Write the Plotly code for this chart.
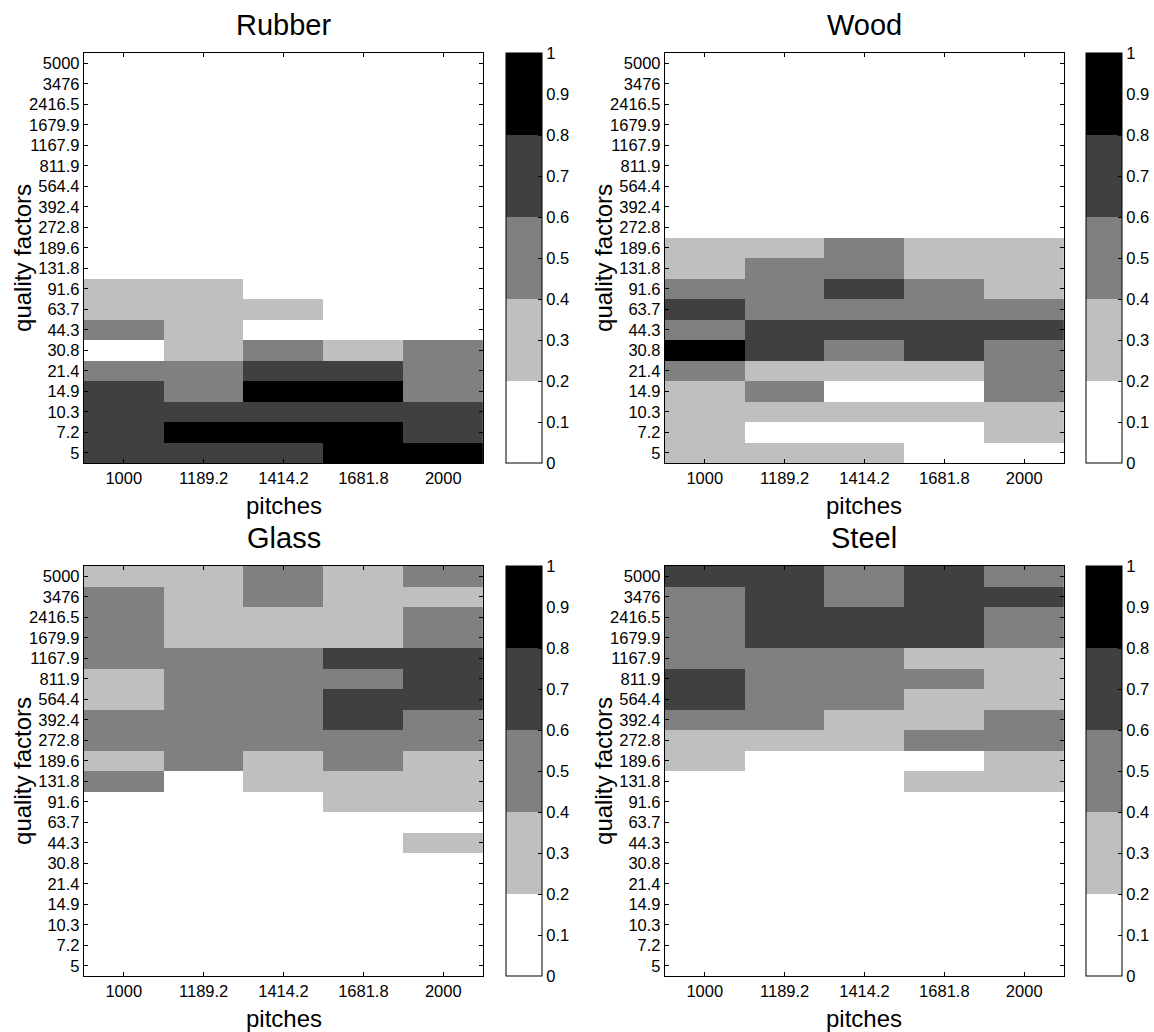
import plotly.graph_objects as go

W, H = 1154, 1032

pitches = ["1000", "1189.2", "1414.2", "1681.8", "2000"]
# quality factors, listed top to bottom as in the picture
quality_factors = ["5000", "3476", "2416.5", "1679.9", "1167.9", "811.9", "564.4",
                   "392.4", "272.8", "189.6", "131.8", "91.6", "63.7", "44.3",
                   "30.8", "21.4", "14.9", "10.3", "7.2", "5"]

# values per row (top to bottom), columns = pitches
rubber = [
    [0.1, 0.1, 0.1, 0.1, 0.1],
    [0.1, 0.1, 0.1, 0.1, 0.1],
    [0.1, 0.1, 0.1, 0.1, 0.1],
    [0.1, 0.1, 0.1, 0.1, 0.1],
    [0.1, 0.1, 0.1, 0.1, 0.1],
    [0.1, 0.1, 0.1, 0.1, 0.1],
    [0.1, 0.1, 0.1, 0.1, 0.1],
    [0.1, 0.1, 0.1, 0.1, 0.1],
    [0.1, 0.1, 0.1, 0.1, 0.1],
    [0.1, 0.1, 0.1, 0.1, 0.1],
    [0.1, 0.1, 0.1, 0.1, 0.1],
    [0.3, 0.3, 0.1, 0.1, 0.1],
    [0.3, 0.3, 0.3, 0.1, 0.1],
    [0.5, 0.3, 0.1, 0.1, 0.1],
    [0.1, 0.3, 0.5, 0.3, 0.5],
    [0.5, 0.5, 0.7, 0.7, 0.5],
    [0.7, 0.5, 0.9, 0.9, 0.5],
    [0.7, 0.7, 0.7, 0.7, 0.7],
    [0.7, 0.9, 0.9, 0.9, 0.7],
    [0.7, 0.7, 0.7, 0.9, 0.9],
]

wood = [
    [0.1, 0.1, 0.1, 0.1, 0.1],
    [0.1, 0.1, 0.1, 0.1, 0.1],
    [0.1, 0.1, 0.1, 0.1, 0.1],
    [0.1, 0.1, 0.1, 0.1, 0.1],
    [0.1, 0.1, 0.1, 0.1, 0.1],
    [0.1, 0.1, 0.1, 0.1, 0.1],
    [0.1, 0.1, 0.1, 0.1, 0.1],
    [0.1, 0.1, 0.1, 0.1, 0.1],
    [0.1, 0.1, 0.1, 0.1, 0.1],
    [0.3, 0.3, 0.5, 0.3, 0.3],
    [0.3, 0.5, 0.5, 0.3, 0.3],
    [0.5, 0.5, 0.7, 0.5, 0.3],
    [0.7, 0.5, 0.5, 0.5, 0.5],
    [0.5, 0.7, 0.7, 0.7, 0.7],
    [0.9, 0.7, 0.5, 0.7, 0.5],
    [0.5, 0.3, 0.3, 0.3, 0.5],
    [0.3, 0.5, 0.1, 0.1, 0.5],
    [0.3, 0.3, 0.3, 0.3, 0.3],
    [0.3, 0.1, 0.1, 0.1, 0.3],
    [0.3, 0.3, 0.3, 0.1, 0.1],
]

glass = [
    [0.3, 0.3, 0.5, 0.3, 0.5],
    [0.5, 0.3, 0.5, 0.3, 0.3],
    [0.5, 0.3, 0.3, 0.3, 0.5],
    [0.5, 0.3, 0.3, 0.3, 0.5],
    [0.5, 0.5, 0.5, 0.7, 0.7],
    [0.3, 0.5, 0.5, 0.5, 0.7],
    [0.3, 0.5, 0.5, 0.7, 0.7],
    [0.5, 0.5, 0.5, 0.7, 0.5],
    [0.5, 0.5, 0.5, 0.5, 0.5],
    [0.3, 0.5, 0.3, 0.5, 0.3],
    [0.5, 0.1, 0.3, 0.3, 0.3],
    [0.1, 0.1, 0.1, 0.3, 0.3],
    [0.1, 0.1, 0.1, 0.1, 0.1],
    [0.1, 0.1, 0.1, 0.1, 0.3],
    [0.1, 0.1, 0.1, 0.1, 0.1],
    [0.1, 0.1, 0.1, 0.1, 0.1],
    [0.1, 0.1, 0.1, 0.1, 0.1],
    [0.1, 0.1, 0.1, 0.1, 0.1],
    [0.1, 0.1, 0.1, 0.1, 0.1],
    [0.1, 0.1, 0.1, 0.1, 0.1],
]

steel = [
    [0.7, 0.7, 0.5, 0.7, 0.5],
    [0.5, 0.7, 0.5, 0.7, 0.7],
    [0.5, 0.7, 0.7, 0.7, 0.5],
    [0.5, 0.7, 0.7, 0.7, 0.5],
    [0.5, 0.5, 0.5, 0.3, 0.3],
    [0.7, 0.5, 0.5, 0.5, 0.3],
    [0.7, 0.5, 0.5, 0.3, 0.3],
    [0.5, 0.5, 0.3, 0.3, 0.5],
    [0.3, 0.3, 0.3, 0.5, 0.5],
    [0.3, 0.1, 0.1, 0.1, 0.3],
    [0.1, 0.1, 0.1, 0.3, 0.3],
    [0.1, 0.1, 0.1, 0.1, 0.1],
    [0.1, 0.1, 0.1, 0.1, 0.1],
    [0.1, 0.1, 0.1, 0.1, 0.1],
    [0.1, 0.1, 0.1, 0.1, 0.1],
    [0.1, 0.1, 0.1, 0.1, 0.1],
    [0.1, 0.1, 0.1, 0.1, 0.1],
    [0.1, 0.1, 0.1, 0.1, 0.1],
    [0.1, 0.1, 0.1, 0.1, 0.1],
    [0.1, 0.1, 0.1, 0.1, 0.1],
]

titles = ["Rubber", "Wood", "Glass", "Steel"]
datasets = [rubber, wood, glass, steel]
cbar_ticks = [0, 0.1, 0.2, 0.3, 0.4, 0.5, 0.6, 0.7, 0.8, 0.9, 1]
cbar_labels = ["0", "0.1", "0.2", "0.3", "0.4", "0.5", "0.6", "0.7", "0.8", "0.9", "1"]

colorscale = [
    [0.0, "#ffffff"], [0.2, "#ffffff"],
    [0.2, "#bfbfbf"], [0.4, "#bfbfbf"],
    [0.4, "#808080"], [0.6, "#808080"],
    [0.6, "#404040"], [0.8, "#404040"],
    [0.8, "#000000"], [1.0, "#000000"],
]

FONT = "Liberation Sans, Arial, Helvetica, sans-serif"
TICK_SIZE = 16.5

# pixel boxes of the plot areas: (left, right, top, bottom)
boxes = [
    (84, 484, 53, 463),
    (666, 1066, 53, 463),
    (84, 484, 566, 976),
    (666, 1066, 566, 976),
]
cbar_left = [507, 1088, 507, 1088]

fig = go.Figure()
annotations = []
y_bottom_up = quality_factors[::-1]

for i, (name, data) in enumerate(zip(titles, datasets)):
    l, r, t, b = boxes[i]
    xa = "x" if i == 0 else f"x{i+1}"
    ya = "y" if i == 0 else f"y{i+1}"
    z = data[::-1]
    fig.add_trace(go.Heatmap(
        x=pitches, y=y_bottom_up, z=z,
        xaxis=xa, yaxis=ya,
        zmin=0, zmax=1, colorscale=colorscale,
        colorbar=dict(
            x=cbar_left[i] / W, xanchor="left", xpad=0,
            y=1 - (t + b) / 2 / H, yanchor="middle", ypad=0,
            len=b - t, lenmode="pixels",
            thickness=36, thicknessmode="pixels",
            outlinecolor="black", outlinewidth=1,
            tickmode="array", tickvals=cbar_ticks, ticktext=cbar_labels,
            ticks="inside", ticklen=4, tickcolor="black",
            tickfont=dict(family=FONT, size=TICK_SIZE, color="black"),
        ),
        hovertemplate="pitch %{x}<br>Q %{y}<br>%{z}<extra>" + name + "</extra>",
    ))
    axis_common = dict(
        type="category", showline=True, linecolor="black", linewidth=1,
        mirror="ticks", ticks="inside", ticklen=4, tickcolor="black",
        showgrid=False, zeroline=False, fixedrange=True,
        tickfont=dict(family=FONT, size=TICK_SIZE, color="black"),
    )
    fig.update_layout(**{
        ("xaxis" if i == 0 else f"xaxis{i+1}"): dict(
            domain=[l / W, r / W], anchor=ya, **axis_common),
        ("yaxis" if i == 0 else f"yaxis{i+1}"): dict(
            domain=[1 - b / H, 1 - t / H], anchor=xa, **axis_common),
    })
    cx = (l + r) / 2 / W
    annotations.append(dict(
        text=name, x=cx, y=1 - (t - 28) / H, xref="paper", yref="paper",
        showarrow=False, xanchor="center", yanchor="middle",
        font=dict(family=FONT, size=29, color="black")))
    annotations.append(dict(
        text="pitches", x=cx, y=1 - (b + 42) / H, xref="paper", yref="paper",
        showarrow=False, xanchor="center", yanchor="middle",
        font=dict(family=FONT, size=24, color="black")))
    annotations.append(dict(
        text="quality factors", x=(l - 62) / W, y=1 - (t + b) / 2 / H,
        xref="paper", yref="paper", textangle=-90,
        showarrow=False, xanchor="center", yanchor="middle",
        font=dict(family=FONT, size=24, color="black")))

fig.update_layout(
    width=W, height=H,
    margin=dict(l=0, r=0, t=0, b=0),
    paper_bgcolor="white", plot_bgcolor="white",
    annotations=annotations,
    showlegend=False,
    font=dict(family=FONT, color="black"),
)

fig.write_html("out.html")
